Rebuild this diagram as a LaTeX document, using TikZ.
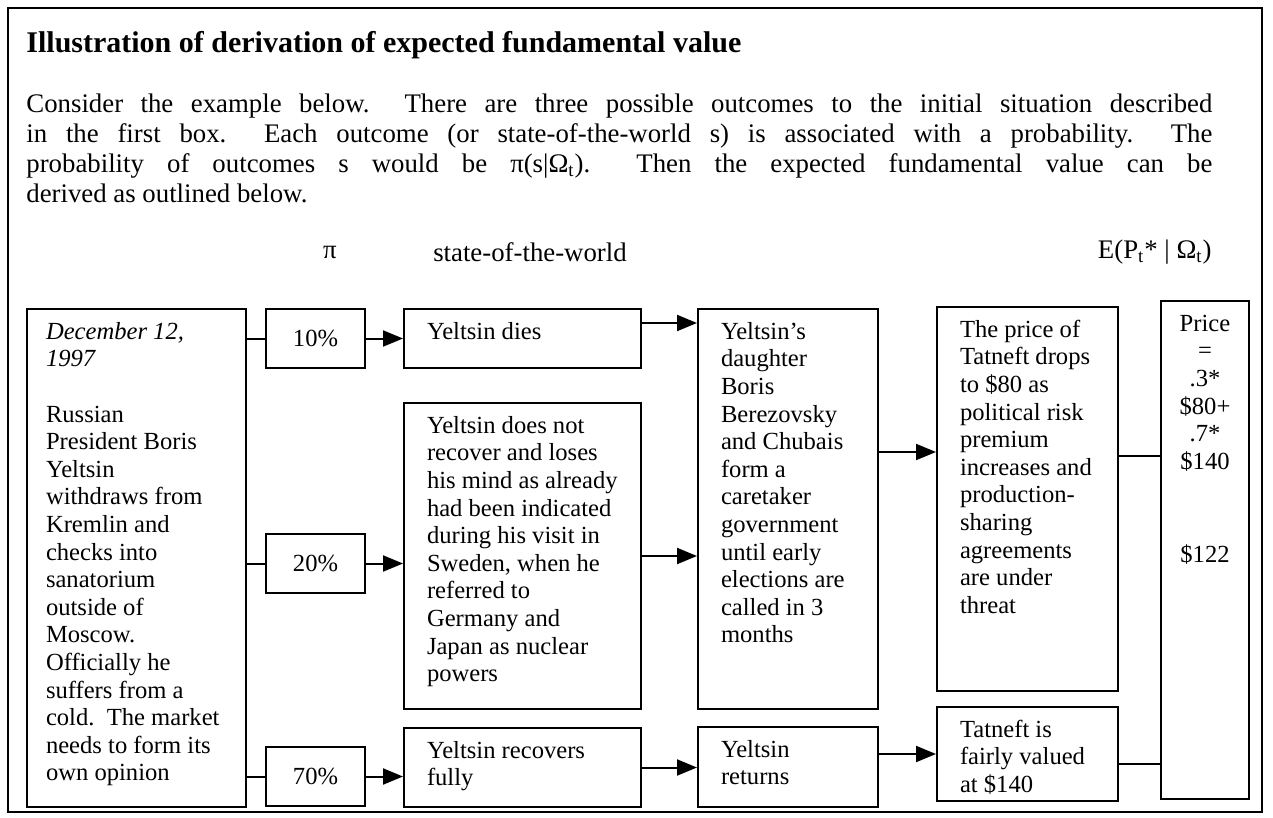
\documentclass[tikz,border=0pt]{standalone}
\usepackage{fontspec}
\setmainfont{Liberation Serif}
\usetikzlibrary{arrows.meta}
\newcommand{\bodyfont}{\fontsize{12.3}{13.8}\selectfont}
\newcommand{\introfont}{\fontsize{13.4}{14.9}\selectfont}
\newcommand{\boxtext}[3]{\parbox[c][#2][t]{#1}{\vspace*{5.5pt}\begin{tabular}[t]{@{}l@{}}#3\end{tabular}}}
\newcommand{\pricetext}[3]{\parbox[c][#2][t]{#1}{\centering\vspace*{5.5pt}\begin{tabular}[t]{@{}c@{}}#3\end{tabular}}}
\tikzset{
    event-box/.style = {draw, line width=1pt, rectangle, anchor=north west, inner xsep=11.5pt, inner ysep=0pt, font=\bodyfont},
    prob-box/.style = {draw, line width=1pt, rectangle, anchor=north west, minimum width=49.5pt, minimum height=29.5pt, inner sep=0pt, font=\bodyfont},
    head-label/.style = {font=\introfont, inner sep=0pt},
    link/.style = {line width=1pt},
    arrow-link/.style = {line width=1pt, -{Triangle[length=10pt,width=8pt]}},
}

\begin{document}
\begin{tikzpicture}[x=0.5pt, y=-0.5pt]
\useasboundingbox (0,0) rectangle (1273,818);
\draw[line width=0.6pt] (8,8) rectangle (1262,812);

\node[anchor=west, inner sep=0pt, font=\fontsize{15}{16}\selectfont\bfseries] (title) at (26,45)
    {Illustration of derivation of expected fundamental value};
\node[anchor=north west, inner sep=0pt, align=left, font=\introfont] (intro) at (26,94)
    {\makebox[593pt][s]{Consider the example below.\ \ There are three possible outcomes to the initial situation described}\\
     \makebox[593pt][s]{in the first box.\ \ Each outcome (or state-of-the-world s) is associated with a probability.\ \ The}\\
     \makebox[593pt][s]{probability of outcomes s would be π(s|Ω\textsubscript{t}).\ \ Then the expected fundamental value can be}\\
     derived as outlined below.};

\node[head-label] (pi-head) at (330,252) {π};
\node[head-label] (state-head) at (530,252) {state-of-the-world};
\node[head-label, anchor=east] (value-head) at (1212,252) {E(P\textsubscript{t}* | Ω\textsubscript{t})};

\node[event-box, inner xsep=9.5pt] (dec) at (26,308) {\boxtext{90.5pt}{249pt}{%
    \itshape December 12,\\ \itshape 1997\\ \\
    Russian\\ President Boris\\ Yeltsin\\ withdraws from\\ Kremlin and\\ checks into\\
    sanatorium\\ outside of\\ Moscow.\\ Officially he\\ suffers from a\\
    cold.\ \ The market\\ needs to form its\\ own opinion}};

\node[prob-box] (p10) at (265,308) {10\%};
\node[prob-box] (p20) at (265,533) {20\%};
\node[prob-box] (p70) at (265,746) {70\%};

\node[event-box] (dies) at (403,308) {\boxtext{95.5pt}{29.5pt}{Yeltsin dies}};
\node[event-box] (loses) at (403,402) {\boxtext{95.5pt}{153pt}{%
    Yeltsin does not\\ recover and loses\\ his mind as already\\ had been indicated\\
    during his visit in\\ Sweden, when he\\ referred to\\ Germany and\\
    Japan as nuclear\\ powers}};
\node[event-box] (recov) at (403,727) {\boxtext{95.5pt}{39.5pt}{Yeltsin recovers\\ fully}};

\node[event-box] (daughter) at (697,308) {\boxtext{67pt}{200pt}{%
    Yeltsin's\\ daughter\\ Boris\\ Berezovsky\\ and Chubais\\ form a\\ caretaker\\
    government\\ until early\\ elections are\\ called in 3\\ months}};
\node[event-box] (returns) at (697,726) {\boxtext{67pt}{40pt}{Yeltsin\\ returns}};

\node[event-box] (drops) at (936,306) {\boxtext{67.5pt}{192pt}{%
    The price of\\ Tatneft drops\\ to \$80 as\\ political risk\\ premium\\
    increases and\\ production-\\ sharing\\ agreements\\ are under\\ threat}};
\node[event-box] (fair) at (936,706) {\boxtext{67.5pt}{47pt}{Tatneft is\\ fairly valued\\ at \$140}};

\node[event-box, inner xsep=0pt] (price) at (1160,300) {\pricetext{44pt}{249pt}{%
    Price\\ =\\ .3*\\ \$80+\\ .7*\\ \$140\\[33pt] \$122}};

\coordinate (dies-out) at ([yshift=-7.5pt]dies.north east);
\coordinate (daughter-out) at ([yshift=-72pt]daughter.north east);
\coordinate (drops-out) at ([yshift=-75pt]drops.north east);
\coordinate (fair-out) at ([yshift=-5pt]fair.east);

\draw[link] (dec.east |- p10.west) -- (p10.west);
\draw[link] (dec.east |- p20.west) -- (p20.west);
\draw[link] (dec.east |- p70.west) -- (p70.west);
\draw[arrow-link] (p10.east) -- (p10.east -| dies.west);
\draw[arrow-link] (p20.east) -- (p20.east -| loses.west);
\draw[arrow-link] (p70.east) -- (p70.east -| recov.west);
\draw[arrow-link] (dies-out) -- (dies-out -| daughter.west);
\draw[arrow-link] (loses.east) -- (loses.east -| daughter.west);
\draw[arrow-link] (recov.east) -- (recov.east -| returns.west);
\draw[arrow-link] (daughter-out) -- (daughter-out -| drops.west);
\draw[arrow-link] (fair.west -| returns.east) -- (fair.west);
\draw[link] (drops-out) -- (drops-out -| price.west);
\draw[link] (fair-out) -- (fair-out -| price.west);
\end{tikzpicture}
\end{document}
